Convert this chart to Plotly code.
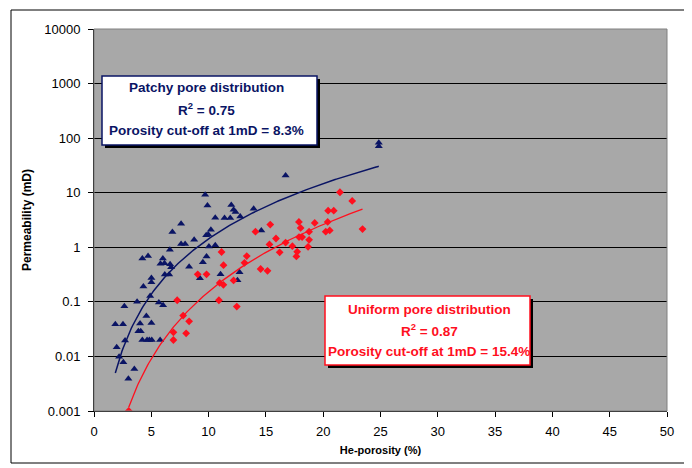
import numpy as np
import plotly.graph_objects as go

# ---------------- data ----------------
patchy_porosity = [1.86, 2.53, 1.98, 2.19, 2.56, 3.52, 3.00, 2.71, 2.65, 3.76,
                   4.31, 5.01, 5.01, 4.90, 5.66, 6.03, 4.57, 4.02, 5.01, 3.87,
                   4.08, 4.22, 4.63, 4.83, 5.04, 5.77, 7.60, 6.84, 7.60, 7.95,
                   6.62, 4.22, 4.72, 6.01, 5.80, 6.15, 6.64, 6.73, 8.30, 6.18,
                   6.56, 16.72, 9.70, 9.90, 11.98, 12.18, 12.35, 13.93, 10.58, 11.39,
                   11.89, 12.76, 14.60, 10.20, 9.79, 9.97, 8.74, 10.03, 10.58, 9.82,
                   9.50, 11.04, 9.24, 12.70, 12.52, 24.85, 24.85]
patchy_perm = [0.039, 0.039, 0.0148, 0.0099, 0.0078, 0.0059, 0.0039, 0.0195, 0.083, 0.1,
               0.192, 0.275, 0.229, 0.128, 0.0975, 0.0866, 0.055, 0.040, 0.041, 0.029,
               0.029, 0.02, 0.02, 0.02, 0.02, 0.02, 2.70, 1.90, 1.15, 1.15,
               0.90, 0.62, 0.69, 0.62, 0.50, 0.51, 0.49, 0.43, 0.44, 0.316,
               0.316, 20.6, 9.2, 5.8, 5.97, 4.89, 4.44, 5.1, 3.49, 3.44,
               3.44, 3.68, 2.04, 2.10, 1.66, 1.72, 1.37, 1.03, 1.09, 0.68,
               0.53, 0.32, 0.27, 0.35, 0.25, 82.0, 71.0]

uniform_porosity = [3.03, 6.93, 6.93, 8.04, 7.26, 7.78, 8.30, 10.90, 12.46, 10.97,
                    11.29, 12.18, 9.05, 9.82, 11.13, 11.30, 13.13, 13.33, 14.54, 15.14,
                    14.09, 15.38, 15.88, 15.31, 16.20, 16.72, 17.31, 17.88, 18.03, 17.73,
                    17.66, 17.89, 18.16, 18.77, 18.68, 18.77, 19.26, 20.39, 20.22, 20.57,
                    20.43, 20.92, 21.46, 22.53, 23.43]
uniform_perm = [0.001, 0.02, 0.0276, 0.0265, 0.107, 0.056, 0.044, 0.107, 0.082, 0.222,
                0.205, 0.247, 0.32, 0.32, 0.82, 0.47, 0.52, 0.69, 0.40, 0.37,
                1.93, 2.61, 1.45, 1.13, 0.81, 1.22, 1.05, 2.91, 2.26, 0.83,
                0.68, 1.54, 1.54, 1.37, 1.02, 1.93, 2.79, 2.91, 1.93, 2.04,
                4.69, 4.69, 10.2, 7.07, 2.16]

x_ticks = [0, 5, 10, 15, 20, 25, 30, 35, 40, 45, 50]
y_tickvals = [0.001, 0.01, 0.1, 1, 10, 100, 1000, 10000]
y_ticktext = ["0.001", "0.01", "0.1", "1", "10", "100", "1000", "10000"]

patchy_text = ["Patchy pore distribution", "R<sup>2</sup> = 0.75", "Porosity cut-off at 1mD = 8.3%"]
uniform_text = ["Uniform pore distribution", "R<sup>2</sup> = 0.87", "Porosity cut-off at 1mD = 15.4%"]

NAVY = "#0A1464"
RED = "#FF0F1E"


def power_trend(xs, ys):
    """Power-law trendline (least squares in log-log space, as a spreadsheet does)."""
    lx, ly = np.log10(xs), np.log10(ys)
    b, loga = np.polyfit(lx, ly, 1)
    xx = np.linspace(min(xs), max(xs), 200)
    return xx, 10 ** (loga + b * np.log10(xx))


fig = go.Figure()

bx, by = power_trend(patchy_porosity, patchy_perm)
rx, ry = power_trend(uniform_porosity, uniform_perm)

fig.add_trace(go.Scatter(x=patchy_porosity, y=patchy_perm, mode="markers",
                         marker=dict(symbol="triangle-up", size=7, color=NAVY),
                         showlegend=False))
fig.add_trace(go.Scatter(x=uniform_porosity, y=uniform_perm, mode="markers",
                         marker=dict(symbol="diamond", size=6, color=RED),
                         showlegend=False))
fig.add_trace(go.Scatter(x=bx, y=by, mode="lines", line=dict(color=NAVY, width=1.5),
                         showlegend=False))
fig.add_trace(go.Scatter(x=rx, y=ry, mode="lines", line=dict(color=RED, width=1.3),
                         showlegend=False))

# The page body has an 8px margin, so the figure is offset by 8px in the window.
OFF = 8
W, H = 692 - OFF, 468 - OFF
PL, PR, PT, PB = 94, 667, 29, 411          # plot area in window pixels
L, R, T, B = PL - OFF, 692 - PR, PT - OFF, 468 - PB
pw, ph = PR - PL, PB - PT


def px2x(px):
    return (px - PL) / pw


def py2y(py):
    return (PB - py) / ph


shapes = [
    # outer chart border
    dict(type="rect", xref="paper", yref="paper", x0=px2x(11), x1=px2x(688),
         y0=py2y(463), y1=py2y(10), line=dict(color="black", width=1), layer="below"),
    # plot area border
    dict(type="rect", xref="paper", yref="paper", x0=0, x1=1, y0=0, y1=1,
         line=dict(color="#808080", width=1), layer="above"),
    # patchy box: shadow + box
    dict(type="rect", xref="paper", yref="paper", x0=px2x(105), x1=px2x(320),
         y0=py2y(148), y1=py2y(79), fillcolor="black", line=dict(width=0), layer="above"),
    dict(type="rect", xref="paper", yref="paper", x0=px2x(102), x1=px2x(317),
         y0=py2y(145), y1=py2y(76), fillcolor="white", line=dict(color=NAVY, width=1.5),
         layer="above"),
    # uniform box: shadow + box
    dict(type="rect", xref="paper", yref="paper", x0=px2x(328), x1=px2x(533),
         y0=py2y(368), y1=py2y(299), fillcolor="black", line=dict(width=0), layer="above"),
    dict(type="rect", xref="paper", yref="paper", x0=px2x(325), x1=px2x(530),
         y0=py2y(365), y1=py2y(296), fillcolor="white", line=dict(color=RED, width=1.5),
         layer="above"),
]

annotations = []
for txt, py in zip(patchy_text, [88, 109, 130]):
    annotations.append(dict(text=txt, xref="paper", yref="paper", x=px2x(206), y=py2y(py),
                            showarrow=False, xanchor="center", yanchor="middle",
                            font=dict(family="Liberation Sans, Arial", size=13.5,
                                      color=NAVY, weight="bold")))
for txt, py in zip(uniform_text, [309, 330, 351]):
    annotations.append(dict(text=txt, xref="paper", yref="paper", x=px2x(429), y=py2y(py),
                            showarrow=False, xanchor="center", yanchor="middle",
                            font=dict(family="Liberation Sans, Arial", size=13.5,
                                      color=RED, weight="bold")))

fig.update_layout(
    width=W, height=H,
    margin=dict(l=L, r=R, t=T, b=B, pad=0, autoexpand=False),
    paper_bgcolor="white",
    plot_bgcolor="#A8A8A8",
    font=dict(family="Liberation Sans, Arial", size=13, color="black"),
    shapes=shapes,
    annotations=annotations,
    xaxis=dict(range=[0, 50], tickvals=x_ticks, showgrid=False, zeroline=False,
               showline=True, linecolor="black", linewidth=1, automargin=False,
               ticks="outside", ticklen=5, tickcolor="black", ticklabelstandoff=3,
               title=dict(text="<b>He-porosity (%)</b>", font=dict(size=11), standoff=8)),
    yaxis=dict(type="log", range=[-3, 4], tickvals=y_tickvals, ticktext=y_ticktext,
               showgrid=True, gridcolor="black", gridwidth=1, zeroline=False,
               showline=True, linecolor="black", linewidth=1, automargin=False,
               ticks="outside", ticklen=5, tickcolor="black", ticklabelstandoff=5,
               title=dict(text="<b>Permeability (mD)</b>", font=dict(size=12), standoff=10)),
)

fig.write_html("out.html")
